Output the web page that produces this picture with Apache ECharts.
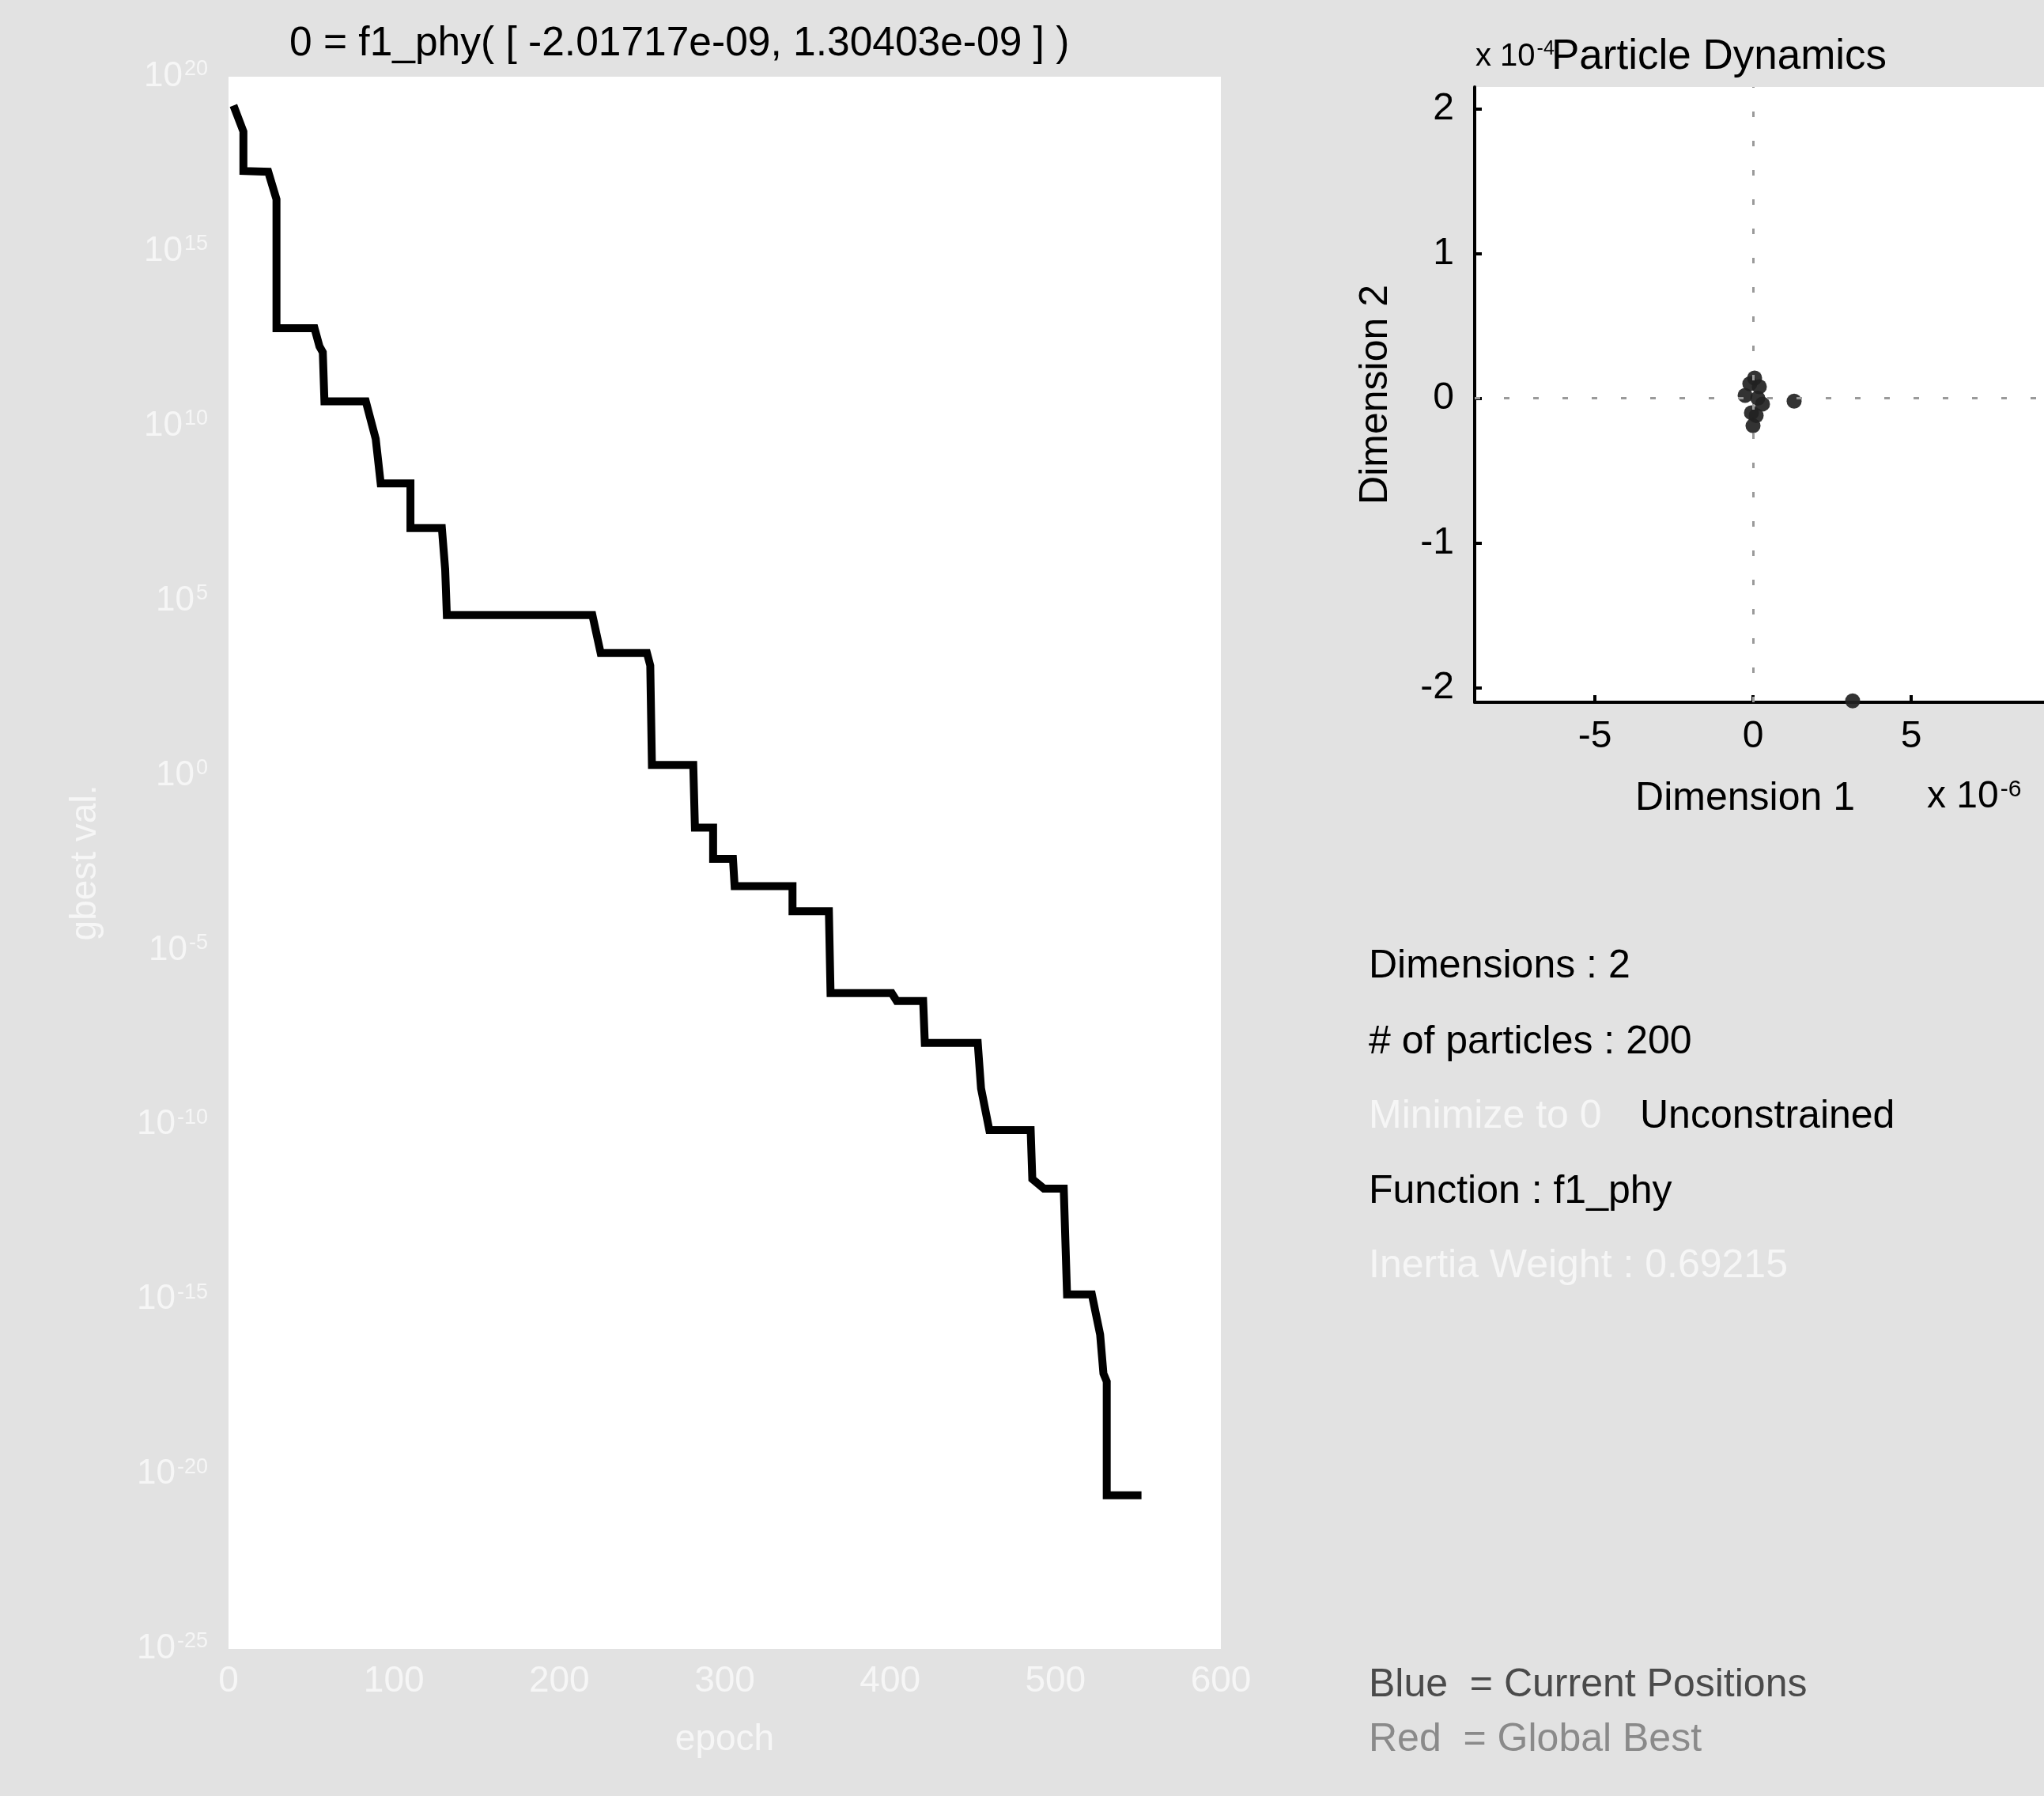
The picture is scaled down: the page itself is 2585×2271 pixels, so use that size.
<!DOCTYPE html>
<html>
<head>
<meta charset="utf-8">
<title>f1_phy PSO</title>
<script src="https://cdn.jsdelivr.net/npm/echarts@6/dist/echarts.min.js"></script>
<style>
  html, body { margin: 0; padding: 0; background: #e2e2e2; }
  #chart { width: 2585px; height: 2271px; }
</style>
</head>
<body>
<div id="chart"></div>
<script>
// gbest value per epoch (corners of the staircase)
const epochs = [3, 9, 9, 24, 29, 29, 52, 55, 57, 58, 83, 89, 92, 110, 110, 129, 131, 132, 220, 225,
  253, 255, 256, 281, 282, 293, 293, 305, 306, 341, 341, 363, 364, 401, 404, 420, 421, 453, 455, 460,
  485, 486, 493, 505, 507, 522, 527, 529, 531, 531, 552]
const gbestVals = [1.5e19, 2.7e18, 2.0e17, 1.9e17, 3.1e16, 6.3e12, 6.3e12, 1.9e12, 1.3e12, 5.1e10, 5.1e10, 4.3e9, 2.3e8, 2.3e8, 1.2e7, 1.2e7, 7.9e5, 3.9e4, 3.9e4, 3.2e3,
  3.2e3, 1.4e3, 2.0, 2.0, 3.2e-2, 3.2e-2, 4.1e-3, 4.1e-3, 6.8e-4, 6.8e-4, 1.3e-4, 1.3e-4, 5.9e-7, 5.9e-7, 3.5e-7, 3.5e-7, 2.2e-8, 2.2e-8, 1.1e-9, 7.1e-11,
  7.1e-11, 2.8e-12, 1.5e-12, 1.5e-12, 1.4e-15, 1.4e-15, 1.0e-16, 7.6e-18, 4.5e-18, 2.5e-21, 2.5e-21]
const gbestTicks = [1e-25, 1e-20, 1e-15, 1e-10, 1e-5, 1, 1e5, 1e10, 1e15, 1e20]

// particle positions (dim 1 in 1e-6, dim 2 in 1e-4)
const dim1 = [-0.25, -0.1, 0.05, 0.2, 0.3, 0.1, -0.05, 0.0, 0.15, 1.3, 3.15]
const dim2 = [0.02, 0.1, 0.14, 0.08, -0.04, -0.12, -0.1, -0.19, 0.0, -0.02, -2.09]
const dim1Ticks = [-5, 0, 5]
const dim2Ticks = [-2, -1, 0, 1, 2]

const FONT = 'Liberation Sans, Arial, Helvetica, sans-serif'
const INK = '#000'
const FAINT = '#f6f6f6'

const chart = echarts.init(document.getElementById('chart'))

const textItem = (text, left, top, color, extra = {}) => ({
  text,
  left,
  top,
  padding: 0,
  textStyle: { fontFamily: FONT, fontSize: 50, fontWeight: 'normal', color, ...extra },
})

const supRich = (size, color) => ({
  a: { fontFamily: FONT, fontSize: size, fontWeight: 'normal', color },
  s: { fontFamily: FONT, fontSize: Math.round(size * 0.62), fontWeight: 'normal', color, verticalAlign: 'top', padding: [0, 0, 18, 2] },
})

const option = {
  animation: false,
  backgroundColor: '#e2e2e2',
  title: [
    textItem('0 = f1_phy( [ -2.01717e-09, 1.30403e-09 ] )', 366, 30, INK, { fontSize: 51.5 }),
    { text: '{a|x 10}{s|-4}', left: 1866, top: 50, padding: 0, textStyle: { rich: supRich(40, INK) } },
    textItem('Particle Dynamics', 1962, 46, INK, { fontSize: 53 }),
    { text: '{a|x 10}{s|-6}', left: 2437, top: 984, padding: 0, textStyle: { rich: supRich(48, INK) } },
    textItem('Dimensions : 2', 1731, 1197, INK),
    textItem('# of particles : 200', 1731, 1293, INK),
    textItem('Minimize to 0', 1731, 1387, FAINT),
    textItem('Unconstrained', 2074, 1387, INK),
    textItem('Function : f1_phy', 1731, 1482, INK),
    textItem('Inertia Weight : 0.69215', 1731, 1576, FAINT),
    textItem('Blue  = Current Positions', 1731, 2106, '#4a4a4a'),
    textItem('Red  = Global Best', 1731, 2175, '#8a8a8a'),
  ],
  grid: [
    { left: 289, top: 97, width: 1255, height: 1988, show: true, backgroundColor: '#fff', borderWidth: 0 },
    { left: 1865, top: 110, width: 720, height: 778, show: true, backgroundColor: '#fff', borderWidth: 0 },
  ],
  xAxis: [
    {
      gridIndex: 0,
      type: 'value',
      min: 0,
      max: 600,
      interval: 100,
      name: 'epoch',
      nameLocation: 'middle',
      nameGap: 92,
      nameTextStyle: { fontFamily: FONT, fontSize: 46, color: FAINT },
      axisLine: { show: false },
      axisTick: { show: false },
      splitLine: { show: false },
      axisLabel: { fontFamily: FONT, fontSize: 46, color: FAINT, margin: 18 },
    },
    {
      gridIndex: 1,
      type: 'value',
      min: -8.8,
      max: 9.2,
      name: 'Dimension 1',
      nameLocation: 'middle',
      nameGap: 97,
      nameTextStyle: { fontFamily: FONT, fontSize: 50, color: INK, padding: [0, 36, 0, 0] },
      axisLine: { onZero: false, lineStyle: { color: '#000', width: 4 } },
      axisTick: { customValues: dim1Ticks, inside: true, length: 9, lineStyle: { color: '#000', width: 4 } },
      splitLine: { show: false },
      axisLabel: { customValues: dim1Ticks, fontFamily: FONT, fontSize: 48, color: INK, margin: 20 },
    },
  ],
  yAxis: [
    {
      gridIndex: 0,
      type: 'log',
      min: 1e-25,
      max: 1e20,
      name: 'gbest val.',
      nameLocation: 'middle',
      nameGap: 158,
      nameTextStyle: { fontFamily: FONT, fontSize: 46, color: FAINT },
      axisLine: { show: false },
      axisTick: { show: false },
      splitLine: { show: false },
      minorSplitLine: { show: false },
      axisLabel: {
        customValues: gbestTicks,
        margin: 26,
        formatter: (v) => `{a|10}{s|${Math.round(Math.log10(v))}}`,
        rich: supRich(44, FAINT),
      },
    },
    {
      gridIndex: 1,
      type: 'value',
      min: -2.1,
      max: 2.15,
      name: 'Dimension 2',
      nameLocation: 'middle',
      nameGap: 100,
      nameTextStyle: { fontFamily: FONT, fontSize: 50, color: INK },
      axisLine: { onZero: false, lineStyle: { color: '#000', width: 4 } },
      axisTick: { customValues: dim2Ticks, inside: true, length: 9, lineStyle: { color: '#000', width: 4 } },
      splitLine: { show: false },
      axisLabel: { customValues: dim2Ticks, fontFamily: FONT, fontSize: 48, color: INK, margin: 26 },
    },
  ],
  series: [
    {
      type: 'line',
      xAxisIndex: 0,
      yAxisIndex: 0,
      data: epochs.map((e, i) => [e, gbestVals[i]]),
      showSymbol: false,
      symbol: 'none',
      lineStyle: { color: '#000', width: 10, join: 'miter' },
    },
    {
      type: 'scatter',
      xAxisIndex: 1,
      yAxisIndex: 1,
      data: dim1.map((d, i) => [d, dim2[i]]),
      symbolSize: 19,
      itemStyle: { color: '#222', opacity: 0.92 },
      markLine: {
        silent: true,
        symbol: 'none',
        label: { show: false },
        lineStyle: { color: '#9a9a9a', width: 3, type: [7, 30] },
        data: [{ xAxis: 0 }, { yAxis: 0 }],
      },
    },
  ],
}

chart.setOption(option)
</script>
</body>
</html>
